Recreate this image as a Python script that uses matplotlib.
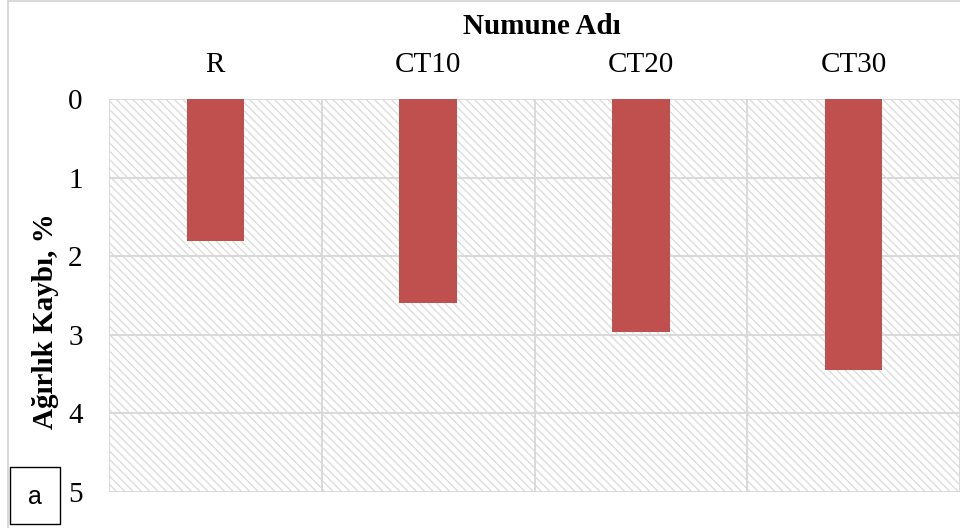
import matplotlib
matplotlib.use("Agg")
import matplotlib.pyplot as plt
from matplotlib.patches import Rectangle

categories = ["R", "CT10", "CT20", "CT30"]
values = [1.81, 2.59, 2.96, 3.45]
yticks = [0, 1, 2, 3, 4, 5]

plt.rcParams['font.family'] = ['Liberation Serif', 'DejaVu Serif']
plt.rcParams['hatch.linewidth'] = 0.9

fig = plt.figure(figsize=(9.6, 5.28), dpi=100)
W, H = 960, 528
left, right, top, bottom = 109, 960, 99, 492
ax = fig.add_axes([left / W, 1 - bottom / H, (right - left) / W, (bottom - top) / H])

grid_c = '#d9d9d9'
# hatched plot-area background
bg = Rectangle((0, 0), 1, 1, transform=ax.transAxes, facecolor='white',
               edgecolor='#dadada', hatch='\\\\\\\\', linewidth=0, zorder=0)
ax.add_patch(bg)

x = list(range(len(categories)))
ax.bar(x, values, width=0.27, color='#C0504D', zorder=3)

ax.set_xlim(-0.5, len(categories) - 0.5)
ax.set_ylim(5, 0)
ax.set_yticks(yticks)
ax.set_yticklabels([str(v) for v in yticks])
ax.xaxis.tick_top()
ax.set_xticks(x)
ax.set_xticklabels(categories)
ax.tick_params(axis='both', length=0, labelsize=21)
ax.tick_params(axis='x', pad=15)
ax.tick_params(axis='y', pad=19)

# grid
for v in yticks:
    ax.axhline(v, color=grid_c, lw=1.4, zorder=1)
for b in [-0.5, 0.5, 1.5, 2.5, 3.5]:
    ax.axvline(b, color=grid_c, lw=1.4, zorder=1)
for s in ax.spines.values():
    s.set_visible(False)
ax.set_facecolor('white')

ax.xaxis.set_label_position('top')
ax.set_xlabel('Numune Adı', fontsize=21, fontweight='bold')
ax.xaxis.set_label_coords((542 - left) / (right - left), 1 + (top - 13) / (bottom - top))
ax.xaxis.label.set_va('top')

ax.set_ylabel('Ağırlık Kaybı, %', fontsize=21, fontweight='bold')
ax.yaxis.set_label_coords((59 - left) / (right - left), (bottom - 321) / (bottom - top))

# outer chart frame
fig.patches.append(Rectangle((8 / W, -0.1), 1.2, 1 - 1 / H + 0.1, transform=fig.transFigure,
                             fill=False, edgecolor='#d9d9d9', lw=1.4, zorder=0))

# panel label box
fig.patches.append(Rectangle((10 / W, 1 - 524 / H), 50 / W, 57 / H, transform=fig.transFigure,
                             fill=True, facecolor='white', edgecolor='black', lw=1.0, zorder=5))
t = fig.text(35 / W, 1 - 497 / H, 'a', fontsize=18, family='Liberation Sans',
             ha='center', va='center')
t.set_zorder(6)

fig.savefig('out.png', dpi=100)
